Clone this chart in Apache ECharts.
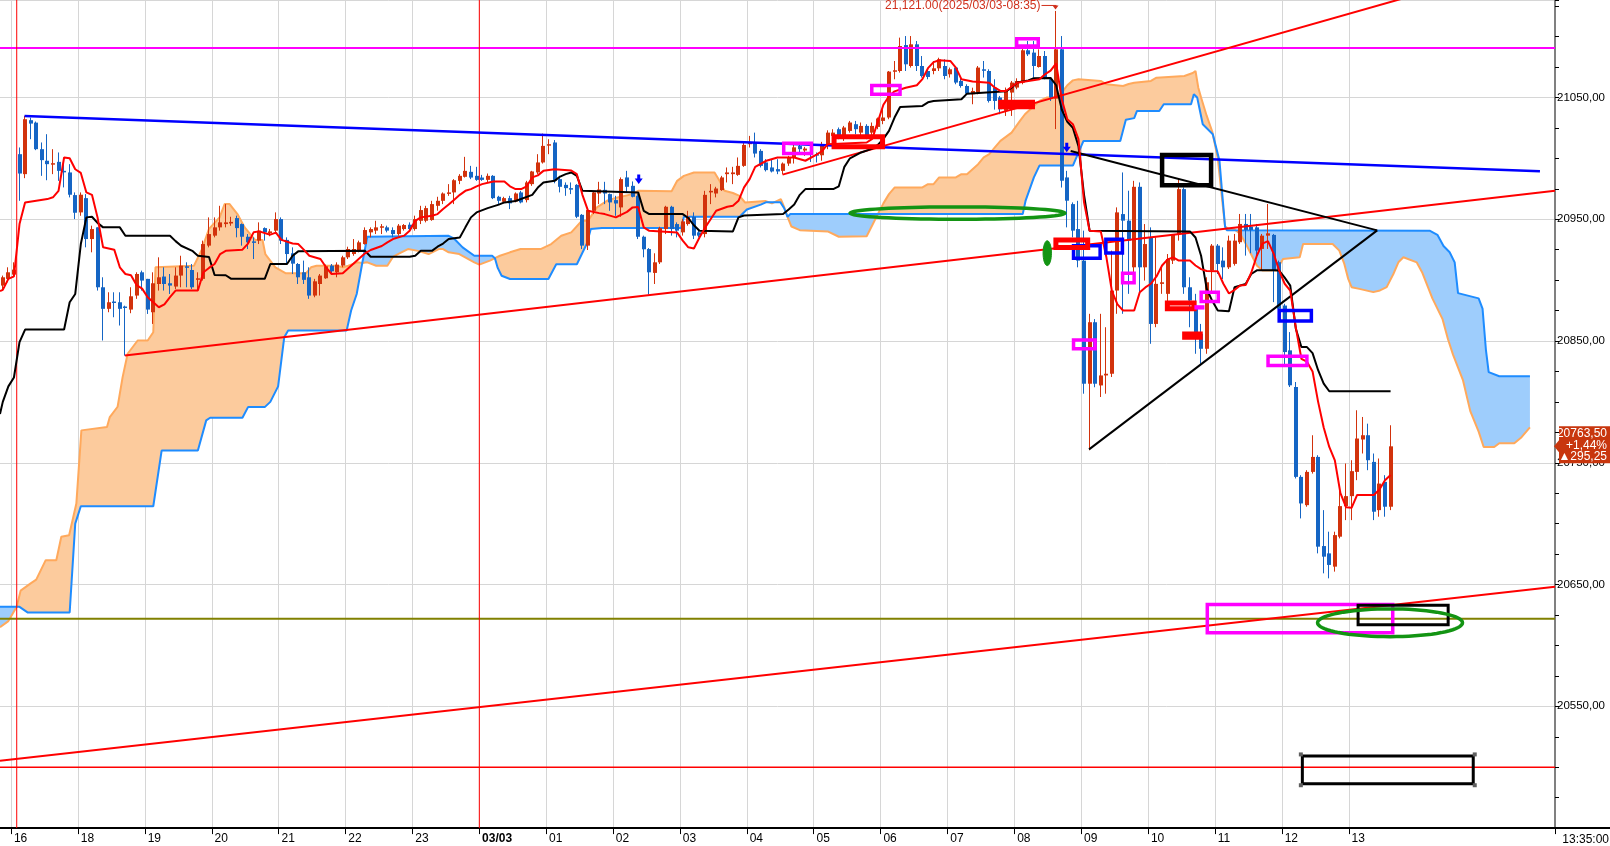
<!DOCTYPE html>
<html><head><meta charset="utf-8">
<script src="https://cdn.jsdelivr.net/npm/echarts@6.0.0/dist/echarts.min.js"></script>
<style>html,body{margin:0;padding:0;background:#fff;overflow:hidden}#c{width:1610px;height:846px}</style>
</head><body><div id="c"></div><script>
// ---------------- DATA ----------------
const sessionDate = '2025/03/03';
const prevClose = 20468.25;
const xTickSlots = [2,14,26,38,50,62,74,86,98,110,122,134,146,158,170,182,194,206,218,230,242];
const xTickLabels = ['16','18','19','20','21','22','23','03/03','01','02','03','04','05','06','07','08','09','10','11','12','13'];
const yMin = 20450, yMax = 21130, yStep = 100;

// [slot, open, close, low, high]  (5-minute candles)
const candles = [
[0,20895.5,20902.3,20891.4,20903.7],[1,20901,20906.4,20898.2,20910.5],[2,20904.5,20908.6,20902.3,20914.6],
[3,21003.4,20987.5,20965.1,21008.9],[4,20987,21032.1,20983.7,21034.8],[5,21031.3,21028.5,21015.7,21033.4],
[6,21029.3,21007.5,21006.7,21030.2],[7,21007.5,20998.5,20985.6,21013],[8,20998,20995.2,20982,21019.8],
[9,20995,20996,20987,21007.5],[10,20997.1,20989.7,20981.5,21004.8],[11,20989.7,20988.9,20976.1,20996.6],
[12,20988.4,20970.1,20967.9,20995.2],[13,20969.8,20955.3,20950.1,20972],[14,20955.6,20970.1,20952.8,20972],
[15,20967.3,20933.7,20926.9,20970.6],[16,20933.7,20941.9,20922.8,20944.7],[17,20943.3,20894.1,20891.4,20943.3],
[18,20894.1,20876.4,20850.4,20902.3],[19,20876.4,20881.8,20873.6,20890],[20,20882.4,20881.3,20869.5,20890],
[21,20881.8,20876.4,20862.7,20890],[22,20878.3,20877.2,20838,20879],[23,20875.8,20886.7,20872.8,20894.1],
[24,20887.3,20905,20884.6,20906.4],[25,20906.4,20899.6,20891.4,20907.8],[26,20901,20875.8,20872.2,20901],
[27,20873.6,20897.4,20864,20906.4],[28,20896.8,20902.3,20891.4,20918.7],[29,20902.9,20896.8,20891.4,20910.5],
[30,20897.4,20895.5,20888.6,20905],[31,20894.7,20903.7,20892.7,20910.5],[32,20903.7,20911.9,20894.1,20920],
[33,20911.3,20910.5,20894.1,20914.6],[34,20908.3,20894.1,20892.7,20913.2],[35,20900.2,20901.5,20891.4,20906.4],
[36,20901,20929.6,20899.6,20932.4],[37,20928.3,20937.8,20926.9,20951.5],[38,20936.5,20943.3,20935.1,20951.5],
[39,20943.3,20947.4,20940.6,20961],[40,20946,20947.4,20943.3,20962.4],[41,20946.5,20947.8,20944.6,20952],
[42,20950.9,20942.7,20935.1,20952.9],[43,20946,20935.6,20928.3,20946.5],[44,20935.6,20931,20925.5,20937.8],
[45,20931.8,20931,20917.3,20935.1],[46,20932.4,20940.6,20929.6,20947.4],[47,20942.7,20939.2,20932.4,20943.3],
[48,20938.5,20940,20936,20942],[49,20940.6,20950.1,20937.8,20955.6],[50,20950.1,20932.4,20929.6,20951.5],
[51,20933,20921.4,20913.2,20935.1],[52,20922,20913.5,20905,20926.9],[53,20913.2,20902.3,20896.8,20914],
[54,20906.4,20900.2,20896.8,20916],[55,20902.3,20887.3,20884.6,20910.5],[56,20887.3,20899,20885.9,20901],
[57,20896.8,20903.7,20887.3,20905],[58,20901.5,20911.3,20901,20912.7],[59,20911.9,20907.2,20905,20913.2],
[60,20906.4,20912.7,20902.3,20914.6],[61,20911.9,20918.7,20910.5,20920],[62,20918.7,20925.5,20917.3,20927.4],
[63,20921.4,20925.5,20920,20933.7],[64,20924.1,20931,20922.8,20932.4],[65,20929.6,20941.1,20929.1,20943.3],
[66,20939.2,20941.9,20935.1,20943.3],[67,20940.6,20943.3,20937.8,20948.7],[68,20943.8,20944.2,20937.8,20946],
[69,20943.3,20940.6,20939.2,20944.7],[70,20941.1,20937.8,20935.1,20943.3],[71,20937.8,20944.7,20936.5,20946],
[72,20941.9,20945.2,20940.6,20946],[73,20945.5,20941.9,20940.6,20947.4],[74,20941.9,20950.1,20940.6,20952.9],
[75,20948.7,20957.5,20946,20961],[76,20948.7,20959.1,20947.4,20961],[77,20949.3,20962.4,20948.7,20965.1],
[78,20961,20965.1,20957,20968.4],[79,20965.1,20971.1,20962.4,20972],[80,20971.5,20972,20969.2,20978.8],
[81,20972,20982,20962.4,20982.9],[82,20981.5,20985.6,20978.8,20987],[83,20984.8,20989.7,20984.2,21001.2],
[84,20988.9,20984.2,20982.9,20993.8],[85,20985.6,20982.3,20981.5,20993],[86,20984.2,20982.3,20981.5,20986.4],
[87,20982.3,20985.6,20980.1,20987.5],[88,20985.6,20967.3,20966.5,20986.2],[89,20968.4,20965.1,20962.4,20969.2],
[90,20964.3,20967.3,20963,20968.4],[91,20967.3,20963,20958.3,20969.2],[92,20964.6,20971.1,20963.8,20972],
[93,20972,20963.8,20963,20973.3],[94,20965.7,20980.2,20963.8,20981.5],[95,20978.8,20989.2,20977.4,20989.7],
[96,20988.4,20996.6,20987,21003.4],[97,20996.6,21010.2,20995.7,21020.3],[98,21010.8,21011.6,21003.4,21015.7],
[99,21013,20981.5,20979.5,21015],[100,20982.9,20976.6,20972,20985.6],[101,20978.2,20975.5,20969.2,20980.2],
[102,20975.5,20974.7,20970.6,20980.2],[103,20978.2,20952,20950.9,20978.8],[104,20953.6,20928.3,20925.5,20954.2],
[105,20928.3,20957.5,20924.7,20959.6],[106,20956.9,20972,20954.2,20973.3],[107,20971.1,20974.4,20962.4,20980.7],
[108,20974.1,20971.1,20962.4,20980.7],[109,20970.6,20963.8,20956.9,20971.1],[110,20965.7,20962.9,20952.8,20969.2],
[111,20959.7,20982.9,20952,20984.3],[112,20984.3,20976.6,20972,20989.7],[113,20977.4,20968.4,20967.9,20981],
[114,20969.2,20935.6,20933.7,20970.6],[115,20935.6,20925.3,20918.7,20936.5],[116,20925.5,20906.4,20888.1,20926.3],
[117,20905.9,20914.6,20896.8,20922],[118,20914.6,20942.7,20913.2,20943.8],[119,20941.9,20960.2,20937.8,20961],
[120,20960.2,20941.9,20936.5,20961],[121,20946,20940.6,20935.1,20947.4],[122,20939.2,20948.2,20936.5,20950.1],
[123,20946,20952,20944.7,20956.9],[124,20952,20936.5,20933.7,20955.6],[125,20939.2,20936.5,20935.1,20941.9],
[126,20937.8,20970,20935.1,20973.3],[127,20972,20973.3,20962.4,20978.8],[128,20971.1,20975.2,20967.9,20976.6],
[129,20973.9,20984.3,20973.3,20985.6],[130,20987,20988.4,20980.2,20992.5],[131,20987,20988.4,20978.8,20993],
[132,20986.4,20993.8,20985.6,21000.7],[133,20993.8,21011,20993,21012.9],[134,21011.6,21012.9,21008.9,21018.4],
[135,21012.9,21003.9,21000.7,21021.1],[136,21006.1,20993.8,20992.5,21007.5],[137,20996.6,20990.3,20989.2,20999.3],
[138,20992.5,20989.2,20988.4,20999.3],[139,20991.1,20989.2,20987,20999.3],[140,20989.7,20995.7,20987,20996.6],
[141,20995.7,21000.7,20993.8,21002],[142,21000.7,21009,20995.7,21011],[143,21010.2,21007.5,21003.4,21012.9],
[144,21006.4,21008,21002,21009.4],[145,21004.8,21003.4,20997,21007.5],[146,21003.4,21002.6,20996.6,21004.8],
[147,21002.5,21010.5,20998,21013.5],[148,21010.2,21021.1,21007.5,21023],[149,21018.4,21021.1,21014.3,21023.9],
[150,21023.9,21018.4,21015.7,21025.3],[151,21018.4,21025.3,21014.3,21026.6],[152,21022.5,21029.4,21021.1,21030.7],
[153,21028,21023.9,21019.8,21030.7],[154,21021.1,21026.6,21018.4,21029.4],[155,21026.6,21018.4,21015.7,21028],
[156,21021.1,21026.6,21017,21029.4],[157,21025.8,21032.7,21023.9,21033.5],[158,21030.7,21033.5,21028,21040.3],
[159,21033.5,21071.2,21032.1,21071.7],[160,21071.2,21072.3,21064.9,21079.9],[161,21071.7,21092.2,21070.4,21099.1],
[162,21093,21077.2,21071.7,21100.4],[163,21075.8,21093.6,21074.5,21100.4],[164,21093.6,21075.8,21071.7,21096.3],
[165,21075.8,21067.6,21066.3,21084],[166,21071.7,21066.8,21064.9,21073.1],[167,21071.7,21073.9,21069,21079.9],
[168,21073.9,21081.3,21071.7,21082.6],[169,21075.8,21067.6,21064.9,21081.3],[170,21069,21073.1,21066.3,21074.5],
[171,21074.5,21062.2,21060.8,21075.8],[172,21063.5,21059.4,21058,21066.3],[173,21059.4,21053.1,21052,21060.8],
[174,21052.6,21055.3,21044.4,21058],[175,21054,21074.5,21052.6,21075.8],[176,21073.1,21072.3,21066.3,21079.9],
[177,21071.7,21047.1,21045.8,21073.1],[178,21058,21047.1,21040,21064.9],[179,21049.9,21040.3,21036.2,21051.2],
[180,21039,21055.3,21034.8,21058.1],[181,21054,21062.2,21034.8,21063.5],[182,21058.1,21063.5,21056.7,21065.7],
[183,21062.2,21088.7,21060.8,21090.9],[184,21088.7,21085.4,21084,21096.3],[185,21086.8,21075.8,21066.3,21096.3],
[186,21075,21084,21074.5,21089.5],[187,21084,21066.3,21064.9,21088.1],[188,21064.9,21049.9,21047.1,21066.3],
[189,21049,21089.5,21024,21121],[190,21089.5,20981.6,20976,21100.4],[191,20984.3,20965.2,20943.3,20989.7],
[192,20962.4,20940.6,20935.1,20963.8],[193,20941.9,20916,20910.5,20965.1],[194,20916,20814.9,20806.7,20940.6],
[195,20814.9,20865.4,20760.3,20872.3],[196,20865.4,20814.9,20812,20868],[197,20813.5,20821.7,20804,20872.3],
[198,20821.7,20823.1,20806.7,20861.3],[199,20823.1,20891.4,20820.4,20924.2],[200,20891.4,20955.6,20872.3,20959.7],
[201,20954.2,20948.8,20872.3,20988.4],[202,20948.8,20932.4,20888.7,20973.4],[203,20910.5,20976.6,20905,20981.5],
[204,20976.6,20910.5,20888.7,20980.2],[205,20910.5,20929.6,20899.6,20946],[206,20935.1,20864,20847.7,20943.3],
[207,20864,20896.9,20861.3,20935.1],[208,20896.9,20898.2,20888.7,20910.5],[209,20888.7,20917.3,20877.7,20921.4],
[210,20916,20937.8,20913.2,20937.8],[211,20937.8,20974.7,20932.4,20982.9],[212,20974.7,20894.1,20888.7,20976.1],
[213,20894.1,20883.2,20861.3,20902.3],[214,20877.7,20855.9,20839.5,20888.7],[215,20855.9,20843.6,20831.3,20864],
[216,20843.6,20898.2,20839.5,20902.3],[217,20907.8,20928.3,20888.7,20929.6],[218,20928.3,20913.2,20905,20929.6],
[219,20916,20910.5,20900.9,20926.9],[220,20910.5,20932.4,20909.1,20936.5],[221,20913.3,20932.4,20911.9,20937.9],
[222,20931.1,20946.1,20929.7,20954.3],[223,20946.1,20941.2,20920.1,20954.3],[224,20943.9,20941.2,20922,20954.3],
[225,20943.3,20924.2,20920.1,20946.1],[226,20925.6,20936.5,20907.8,20937.9],[227,20936.5,20938.4,20925.6,20962.5],
[228,20937.1,20907.8,20881.9,20937.9],[229,20914.7,20876.4,20875,20916],[230,20879.1,20840.9,20828.6,20880.5],
[231,20842.3,20813.6,20812.2,20857.3],[232,20812.2,20738.4,20737.1,20816.3],[233,20738.4,20716.6,20704.3,20739.8],
[234,20715.2,20742.5,20713.9,20743.9],[235,20742.5,20754.8,20741.1,20772.6],[236,20754.8,20681.1,20675.6,20756.2],
[237,20681.6,20672.9,20659.2,20711.1],[238,20675.6,20666.1,20655.1,20693.4],[239,20664.7,20690.6,20660.6,20693.4],
[240,20689.3,20714.4,20687.9,20730.3],[241,20714.4,20722.6,20702.9,20749.4],[242,20722.6,20743.1,20702.9,20752.1],
[243,20742.5,20769.9,20735.7,20793.1],[244,20769.1,20772.6,20757.6,20787.6],[245,20772.6,20752.1,20743.9,20782.1],
[246,20750.7,20709.8,20702.9,20757.6],[247,20711.1,20732.9,20705.7,20753.5],[248,20734.3,20713.9,20705.7,20739.8],
[249,20713.9,20763.5,20711.1,20780.8]
];

// Ichimoku lines as [slot, value] breakpoints
const tenkan = [[-0.5,20891],[0,20892],[1,20901],[2,20903],[3,20946],[4,20963.8],[8,20966.5],[9,20968],[10,20973.3],[11,21000.7],[12,21000],[13,20991],[14,20988],[15,20972],[16,20970],[17,20951.5],[18,20926.9],[20,20925],[21,20910.5],[22,20905],[23,20904],[24,20896],[25,20893],[26,20885.9],[28,20877.7],[29,20880],[30,20886],[31,20891.4],[35,20891.4],[36,20906.4],[37,20910],[38,20913.2],[39,20921.4],[40,20924],[43,20925],[44,20930],[45,20939.2],[46,20940],[48,20937.3],[49,20939],[50,20933],[52,20930],[53,20929.6],[54,20925],[55,20920],[57,20917.3],[58,20910.5],[59,20905],[61,20905.6],[63,20913.8],[65,20922],[66,20924.7],[68,20928],[69,20931],[70,20933.7],[72,20936.5],[73,20940.5],[74,20948.7],[75,20951.5],[77,20952.9],[78,20954.2],[79,20958.3],[80,20962],[81,20966],[82,20970],[83,20973.3],[84,20974.7],[85,20977],[86,20978.8],[88,20981],[90,20981],[91,20977],[92,20974.7],[93,20974.7],[94,20977],[95,20984.3],[96,20986],[97,20989.7],[99,20991.1],[102,20990],[103,20987],[104,20970],[105,20957],[107,20955],[108,20954.2],[110,20951.5],[112,20956],[113,20959.7],[114,20960],[115,20943.3],[116,20940.5],[121,20939],[122,20932.4],[123,20926.9],[124,20926],[125,20935],[126,20943],[127,20950],[128,20956.9],[130,20960.2],[131,20961],[132,20965.1],[133,20976.1],[134,20982.9],[135,20993],[137,20998],[139,21000.7],[142,21000.7],[144,20998],[146,21003],[147,21006],[148,21011.6],[150,21012],[155,21013],[156,21016],[157,21030],[158,21044],[159,21051],[160,21055],[162,21058],[164,21060],[165,21065],[166,21074],[167,21079],[168,21080.5],[170,21080],[171,21074.5],[172,21065],[174,21063],[177,21062],[178,21058],[179,21055.3],[180,21055.3],[182,21062],[186,21065],[187,21069],[188,21072],[189,21078],[190,21048.5],[191,21032],[192,21028],[193,21015.7],[194,20963.8],[195,20940.5],[197,20940],[198,20919],[199,20891],[200,20880],[201,20875],[203,20875],[204,20890],[205,20894],[206,20897],[207,20903],[208,20912],[209,20917],[210,20918.7],[211,20916],[213,20916],[214,20912],[215,20909],[216,20907.5],[218,20907.2],[219,20897],[220,20889],[221,20892],[222,20895.5],[223,20896],[224,20906],[225,20920],[226,20930],[227,20932],[228,20922],[229,20908],[230,20897],[231,20891.4],[232,20861],[233,20835.4],[234,20833],[235,20825],[236,20800],[237,20779],[238,20763],[239,20752],[240,20725],[241,20713.5],[242,20713],[243,20723.6],[246,20723.6],[247,20728],[248,20735.6],[249,20740]];
const kijun = [[-0.5,20790],[0,20800],[1,20812.7],[2,20820],[3,20849],[4,20859.4],[11,20859.4],[12,20881.8],[13,20888.6],[14,20929.6],[15,20951.5],[16,20952],[17,20947],[18,20943.3],[21,20943.3],[22,20936.4],[30,20936.4],[31,20932],[32,20928.2],[34,20924],[35,20920],[37,20919],[38,20904.2],[40,20904],[41,20901],[47,20901],[48,20913.2],[51,20913.2],[52,20920],[53,20923.6],[65,20924],[66,20919.2],[73,20919.2],[74,20920],[75,20924.1],[77,20924],[78,20927.4],[79,20930],[80,20933.7],[82,20935],[83,20943.3],[84,20951.5],[85,20955.6],[87,20959.1],[89,20962],[90,20963.8],[92,20965],[95,20970],[96,20976],[97,20980.2],[99,20981.5],[100,20985],[101,20987],[102,20988.4],[103,20985.6],[104,20973.3],[114,20972],[115,20956.9],[116,20954.2],[122,20954.2],[123,20951],[124,20945],[125,20940.5],[131,20940],[132,20951.5],[133,20953],[140,20954.2],[141,20958],[142,20962],[143,20970],[144,20974.7],[149,20974.7],[150,20977],[151,20993],[152,21000],[154,21004.8],[156,21008],[157,21011],[158,21016],[159,21022.5],[160,21033.5],[161,21042.2],[165,21043],[166,21046],[167,21047.1],[172,21048.5],[173,21053.1],[180,21055],[181,21058],[182,21062.2],[184,21064],[185,21065.7],[188,21066],[189,21060],[190,21040],[191,21030],[192,21025],[193,21010],[194,20970],[195,20940.5],[213,20940],[214,20935],[215,20920],[216,20893],[217,20883],[218,20875],[220,20874.4],[221,20894.1],[223,20896.9],[224,20905],[225,20908],[228,20908],[229,20907.8],[230,20902],[231,20895.5],[232,20860],[233,20845],[234,20845],[235,20840],[236,20826],[237,20815],[238,20808.7],[249,20808.7]];
const spanA = [[-0.5,20615],[1,20620],[2.5,20631.7],[3.2,20645],[5,20651],[6,20654],[7.7,20670],[9.6,20670],[10.5,20689.2],[11.9,20690.5],[13.2,20716.5],[14.1,20776.6],[18.7,20779.3],[19.2,20787.5],[20.6,20796],[21.5,20820.3],[22.4,20839.5],[24.2,20850.4],[26,20850.4],[27,20857.2],[27.4,20910.5],[34.3,20911.8],[35.7,20925],[37,20942],[38.9,20951.5],[39.8,20962.4],[40.7,20962.4],[42.1,20954.2],[43.4,20943.3],[45.3,20932.9],[46.6,20932.9],[47.1,20921.4],[48.9,20910.5],[50.8,20905.6],[54.4,20905.6],[55.3,20910.5],[56.3,20911.8],[59.9,20911.8],[61,20910.5],[62,20911.8],[63.6,20914.6],[64.5,20914],[65.4,20914.6],[67,20911.8],[69,20911.8],[70,20919],[70.9,20921.4],[72.7,20925.5],[74.5,20924],[76.4,20921.4],[78.2,20925.5],[79,20925.5],[80,20922.8],[81.9,20921.4],[84.6,20914.6],[85.5,20912.7],[87.4,20916],[88.3,20918],[89.2,20920],[91,20922.8],[92.9,20925.5],[96.5,20925.5],[98.4,20929.6],[100.2,20936.4],[102,20939.2],[103.9,20948.7],[105,20948.7],[106.6,20959.7],[108.4,20965.1],[110.3,20967.9],[113,20970.6],[114,20973.3],[120,20973],[121,20981.5],[122.2,20985.6],[124,20988.4],[127.7,20988.4],[128.6,20981.5],[129.5,20973.3],[131,20971.5],[132.2,20969.2],[133.2,20963.7],[136.8,20965],[138,20963],[139.6,20966.5],[140.2,20960],[140.8,20952],[141.5,20944],[143,20941],[148,20940],[150,20935.6],[155,20936],[156,20945],[157,20954.2],[158,20963],[159,20970.6],[160,20976],[165,20976.1],[166,20978.8],[167,20978.8],[168,20984.3],[171,20984.3],[172,20987],[173,20987],[175,20995.2],[176,21000.7],[177,21003.4],[178,21008.9],[179,21014.3],[181,21021.1],[182.5,21030.7],[183.4,21036.2],[185,21043],[186,21047.1],[187.3,21049.9],[189,21050],[190,21054],[191,21060],[192,21064],[193,21064.9],[197,21063.5],[198,21060.8],[201,21059.4],[202,21061],[203,21062],[206,21063.5],[207,21066.2],[212,21067.6],[213.5,21070],[214,21071.7],[214.5,21058],[215,21050],[216,21035],[217,21022],[218,21000],[218.8,20965],[219.3,20944],[220,20941.8],[221,20941.5],[222,20938],[223,20930],[224,20921],[225,20912],[226,20907.8],[228.5,20907.8],[229.7,20917.4],[232.7,20918.8],[233.3,20929.7],[238.6,20929.7],[239.8,20924.2],[240.7,20913.3],[241.4,20901],[242,20894.2],[243.4,20892.8],[245.9,20890.1],[247.1,20891.5],[248.3,20894.2],[249.5,20905],[250.4,20914.6],[251.3,20918.8],[253.7,20914.5],[254.7,20906],[256.5,20885],[258.3,20868.2],[259.3,20851.4],[260.2,20838.8],[262,20817.6],[263.3,20792.4],[264.8,20775.6],[265.7,20762.9],[267.6,20762.9],[268.5,20766],[271.2,20766],[272.5,20771],[274,20779]];
const spanB = [[-0.5,20631.7],[2.5,20631.7],[3,20631.7],[4.5,20627],[12,20627],[13,20700],[14,20714.3],[27,20714.3],[28.5,20760],[35,20760],[36.5,20784.8],[37.2,20787],[43,20787],[44,20795.7],[47,20795.7],[48,20800],[49.4,20812.7],[50.5,20853.1],[51.2,20858.6],[61.7,20858.6],[62.5,20875],[63.5,20888.6],[64.5,20914],[65.4,20935.6],[80,20936.4],[81,20934],[82.5,20926.9],[84.6,20920],[87.8,20920],[88.3,20918],[88.8,20910],[89.5,20903.6],[91,20900.9],[97.9,20900.9],[99.3,20913],[103,20913],[104.8,20930],[105.5,20941.9],[107.5,20942.7],[121.7,20942.7],[122.2,20952],[132.2,20952],[133.5,20958],[136,20962],[137,20964],[139.5,20964],[140.2,20959],[140.8,20952],[141.3,20954.2],[157,20954.2],[183,20954.2],[183.5,20965],[185,20984.3],[186,20994],[192,20994],[193.9,21014.3],[200.5,21014.3],[201.5,21031.6],[203,21033],[203.5,21038.9],[207.5,21038.9],[208.3,21044.4],[213.2,21044.4],[213.7,21052.6],[214.3,21050],[215.3,21028],[217.1,21019.8],[218.3,20998],[218.8,20970.6],[219.3,20944],[219.6,20941],[256,20940.6],[257.4,20937.2],[258.5,20928],[259.6,20922.9],[260.5,20914.5],[261.1,20889.3],[264.8,20885],[265.5,20876.6],[266.1,20843],[266.6,20824.4],[268.5,20821],[274,20821]];
// which span is on top in each stretch of the cloud
const cloudSegments = [[-0.5,2.5,'B'],[2.5,64.5,'A'],[64.5,88.3,'B'],[88.3,140.8,'A'],[140.8,157,'B'],[157,219.3,'A'],[219.3,274,'B']];

// drawn objects, in chart coordinates [slot, value]
const blueTrend = [[3.9,21034.8],[275.8,20989.4]];
const redTrendMid = [[21.9,20838],[278.5,20973.3]];
const redTrendUpper = [[139.9,20986.6],[251,21131]];
const redTrendLow = [[-0.5,20505.4],[278.5,20648.2]];
const triangleUpper = [[191.6,21006],[246.6,20940.8]];
const triangleLower = [[194.9,20761],[246.6,20940.8]];
const magentaLevel = 21090.5, oliveLevel = 20622, redLevel = 20500;
const sessionBreaks = [2.5, 85.5];
// boxes: [slot1, value1, slot2, value2]
const magentaBoxes = [[139.8,21013.8,145.4,21002.6],[155.6,21061.3,161.3,21051.2],[181.6,21099.6,186.1,21090.8],[200.6,20907,203.3,20896.3],[191.8,20852.3,196.3,20842.2],[214.7,20891.4,218.4,20880.9],[226.7,20838.9,234.3,20828.5],[215.8,20635.1,249.7,20608.9]];
const blueBoxes = [[191.8,20929.7,197.2,20916.6],[197.6,20935,201.2,20920.9],[228.7,20876.4,235.1,20864.9]];
const redBoxes = [[148.7,21019.8,158.3,21007.5],[188.5,20935,195.1,20924.7],[208.5,20883.2,214.2,20874.4]];
const redBlocks = [[178.6,21048,185.2,21040.3],[211.6,20857.8,215.3,20851]];
const magentaBlocks = [[213.8,20879.4,215.6,20875.8]];
const blackThickBoxes = [[207.6,21004.5,217.2,20976.1]];
const blackBoxes = [[242.9,20634.2,259.6,20615.7],[232.9,20510.5,264.1,20485.2]];
// ellipses: [centerSlot, centerValue, radiusSlots, radiusValue]
const greenEllipses = [[171.3,20955,19.25,5.1],[248.9,20618.6,13,11.4]];
const greenBlobs = [[187.4,20922.1,0.75,10.2]];
const signalArrows = [[114.1,20982.5],[190.9,21008.6]];

// ---------------- CHART ----------------
const UP = '#d2320c', DOWN = '#1565c4';
const NSLOT = 279;
const cats = [];
const pad = n => String(n).padStart(2,'0');
cats.push('15:50','15:55');
for (let m = 0; m < 60; m += 5) cats.push('16:' + pad(m));
{ let h = 18, m = 0; while (cats.length < NSLOT) { cats.push(pad(h) + ':' + pad(m)); m += 5; if (m === 60) { m = 0; h = (h + 1) % 24; } } }
const tickSet = new Set(xTickSlots);
const FONT = '"Liberation Sans", Arial, sans-serif';

const chart = echarts.init(document.getElementById('c'), null, {renderer: 'canvas'});

function lineSeries(data, color, width, z) {
  return {type: 'line', xAxisIndex: 1, yAxisIndex: 0, data: data, showSymbol: false, symbol: 'none',
    lineStyle: {color: color, width: width}, z: z, silent: true, animation: false, clip: true};
}
function ellipsePts(api, e, n) {
  const c = api.coord([e[0], e[1]]);
  const rx = Math.abs(api.coord([e[0] + e[2], e[1]])[0] - c[0]);
  const ry = Math.abs(api.coord([e[0], e[1] + e[3]])[1] - c[1]);
  const pts = [];
  for (let i = 0; i < n; i++) { const t = i / n * Math.PI * 2; pts.push([c[0] + rx * Math.cos(t), c[1] + ry * Math.sin(t)]); }
  return pts;
}
function boxShape(api, b, lw) {
  const p1 = api.coord([b[0], b[1]]), p2 = api.coord([b[2], b[3]]);
  const x = Math.min(p1[0], p2[0]) + lw / 2, y = Math.min(p1[1], p2[1]) + lw / 2;
  return {x: x, y: y, width: Math.abs(p2[0] - p1[0]) - lw, height: Math.abs(p2[1] - p1[1]) - lw};
}

const last = candles[candles.length - 1];
let hiC = candles[0];
candles.forEach(c => { if (c[4] > hiC[4]) hiC = c; });

const option = {
  animation: false,
  backgroundColor: '#ffffff',
  grid: {left: 0, right: 55, top: 0, bottom: 17.9, containLabel: false},
  xAxis: [{
    type: 'category', data: cats, boundaryGap: true, gridIndex: 0, position: 'bottom',
    axisLine: {show: true, onZero: false, lineStyle: {color: '#000', width: 2}},
    axisTick: {show: true, interval: (i) => tickSet.has(i), length: 6, lineStyle: {color: '#000', width: 1}},
    axisLabel: {show: true, interval: (i) => tickSet.has(i),
      formatter: (v, i) => { const k = xTickSlots.indexOf(i); if (k < 0) return ''; const t = xTickLabels[k]; return t.indexOf('/') >= 0 ? '{b|' + t + '}' : t; },
      align: 'left', margin: 5, fontSize: 12, color: '#000', fontFamily: FONT,
      rich: {b: {fontWeight: 'bold', fontSize: 12, color: '#000', fontFamily: FONT}}},
    splitLine: {show: true, interval: (i) => tickSet.has(i), lineStyle: {color: '#d6d6d6', width: 1}}
  }, {
    type: 'value', gridIndex: 0, min: -0.5, max: NSLOT - 0.5, show: false,
    axisLine: {show: false, onZero: false}, splitLine: {show: false}, axisLabel: {show: false}, axisTick: {show: false}
  }],
  yAxis: [{
    type: 'value', position: 'right', min: yMin, max: yMax, interval: yStep,
    axisLine: {show: true, onZero: false, lineStyle: {color: '#808080', width: 2}},
    axisTick: {show: true, inside: false, length: 4, lineStyle: {color: '#000'}},
    minorTick: {show: true, splitNumber: 4, length: 4, lineStyle: {color: '#000'}},
    axisLabel: {show: true, margin: 2, fontSize: 11.5, color: '#000', fontFamily: FONT,
      formatter: v => (v <= yMin || v >= yMax - 1) ? '' : v.toFixed(2).replace('.', ',')},
    splitLine: {show: true, lineStyle: {color: '#d6d6d6', width: 1}},
    minorSplitLine: {show: false}
  }],
  series: [
    // cloud fill
    {type: 'custom', xAxisIndex: 1, yAxisIndex: 0, z: 1, silent: true, data: [[0, yMin]],
     renderItem: (params, api) => {
       const children = [];
       cloudSegments.forEach(seg => {
         const a = spanA.filter(p => p[0] >= seg[0] - 1e-6 && p[0] <= seg[1] + 1e-6).map(p => api.coord(p));
         const b = spanB.filter(p => p[0] >= seg[0] - 1e-6 && p[0] <= seg[1] + 1e-6).map(p => api.coord(p)).reverse();
         children.push({type: 'polygon', shape: {points: a.concat(b)}, style: {fill: seg[2] === 'A' ? '#fccb9d' : '#9ecdfc', stroke: null}});
       });
       return {type: 'group', children: children};
     }},
    lineSeries(spanA, '#ffa95c', 2, 2),
    lineSeries(spanB, '#1e8cff', 2, 2),
    // candles
    {type: 'custom', xAxisIndex: 1, yAxisIndex: 0, z: 4, silent: true, data: candles,
     encode: {x: 0, y: [1, 2, 3, 4]},
     renderItem: (params, api) => {
       const s = api.value(0), o = api.value(1), c = api.value(2), l = api.value(3), h = api.value(4);
       const pO = api.coord([s, o]), pC = api.coord([s, c]), pL = api.coord([s, l]), pH = api.coord([s, h]);
       const x = Math.round(pO[0]);
       const col = c >= o ? UP : DOWN;
       let top = Math.min(pO[1], pC[1]), bot = Math.max(pO[1], pC[1]);
       if (bot - top < 1.5) bot = top + 1.5;
       return {type: 'group', children: [
         {type: 'line', shape: {x1: x - 0.5, y1: pH[1], x2: x - 0.5, y2: pL[1]}, style: {stroke: col, lineWidth: 1}},
         {type: 'rect', shape: {x: x - 2, y: top, width: 4, height: bot - top}, style: {fill: col}}
       ]};
     }},
    // levels and trend lines
    lineSeries([[-0.5, magentaLevel], [NSLOT - 0.5, magentaLevel]], '#ff00ff', 2, 5),
    lineSeries([[-0.5, oliveLevel], [NSLOT - 0.5, oliveLevel]], '#808000', 2, 5),
    lineSeries([[-0.5, redLevel], [NSLOT - 0.5, redLevel]], '#ff0000', 1.5, 5),
    lineSeries([[sessionBreaks[0], yMin], [sessionBreaks[0], yMax]], '#ff0000', 1, 5),
    lineSeries([[sessionBreaks[1], yMin], [sessionBreaks[1], yMax]], '#ff0000', 1, 5),
    lineSeries(blueTrend, '#0000ff', 2.5, 5),
    lineSeries(redTrendMid, '#ff0000', 2, 5),
    lineSeries(redTrendUpper, '#ff0000', 2, 5),
    lineSeries(redTrendLow, '#ff0000', 2, 5),
    lineSeries(triangleUpper, '#000000', 2, 5),
    lineSeries(triangleLower, '#000000', 2, 5),
    // tenkan / kijun
    lineSeries(kijun, '#000000', 2, 6),
    lineSeries(tenkan, '#ff0000', 2, 6),
    // annotations
    {type: 'custom', xAxisIndex: 1, yAxisIndex: 0, z: 7, silent: true, data: [[0, yMin]],
     renderItem: (params, api) => {
       const ch = [];
       const addBoxes = (arr, color, lw) => arr.forEach(b => ch.push({type: 'rect', shape: boxShape(api, b, lw), style: {fill: null, stroke: color, lineWidth: lw}}));
       const addBlocks = (arr, color) => arr.forEach(b => ch.push({type: 'rect', shape: boxShape(api, b, 0), style: {fill: color}}));
       addBoxes(magentaBoxes, '#ff00ff', 3.5);
       addBoxes(blueBoxes, '#0000ff', 3.5);
       addBoxes(redBoxes, '#ff0000', 5);
       addBlocks(redBlocks, '#ff0000');
       addBlocks(magentaBlocks, '#ff00ff');
       addBoxes(blackThickBoxes, '#000000', 4.5);
       addBoxes(blackBoxes, '#000000', 3);
       blackBoxes.slice(-1).forEach(b => {
         [[b[0], b[1]], [b[2], b[1]], [b[0], b[3]], [b[2], b[3]]].forEach(q => {
           const p = api.coord(q); ch.push({type: 'rect', shape: {x: p[0] - 2, y: p[1] - 2, width: 4, height: 4}, style: {fill: '#606060'}});
         });
       });
       greenEllipses.forEach(e => ch.push({type: 'polygon', shape: {points: ellipsePts(api, e, 72)}, style: {fill: null, stroke: '#139413', lineWidth: 3.5}}));
       greenBlobs.forEach(e => ch.push({type: 'polygon', shape: {points: ellipsePts(api, e, 36)}, style: {fill: '#139413', stroke: '#139413', lineWidth: 1}}));
       signalArrows.forEach(a => {
         const p = api.coord(a);
         ch.push({type: 'polygon', shape: {points: [[p[0] - 1.5, p[1] - 5], [p[0] + 1.5, p[1] - 5], [p[0] + 1.5, p[1] - 1], [p[0] + 4, p[1] - 1], [p[0], p[1] + 4.5], [p[0] - 4, p[1] - 1], [p[0] - 1.5, p[1] - 1]]}, style: {fill: '#0000ff'}});
       });
       // high marker label
       const hp = api.coord([hiC[0], hiC[4]]);
       const hx = Math.round(hp[0]) - 0.5, ty = hp[1] - 5.5;
       const hiTxt = hiC[4].toLocaleString('en-US', {minimumFractionDigits: 2, maximumFractionDigits: 2}) + '(' + sessionDate + '-' + cats[hiC[0]] + ')';
       ch.push({type: 'text', style: {text: hiTxt, x: hx - 15, y: ty, align: 'right', verticalAlign: 'middle', fill: '#d0301c', font: '12px ' + FONT}});
       ch.push({type: 'line', shape: {x1: hx - 14, y1: ty, x2: hx + 1, y2: ty}, style: {stroke: '#d0301c', lineWidth: 1}});
       ch.push({type: 'polygon', shape: {points: [[hx - 3, ty], [hx + 3, ty], [hx, ty + 4]]}, style: {fill: '#d0301c'}});
       // last price tag
       const lp = api.coord([NSLOT - 0.5, last[2]]);
       const x0 = lp[0], y0 = lp[1];
       const chg = last[2] - prevClose, pct = chg / prevClose * 100;
       ch.push({type: 'polygon', shape: {points: [[x0 - 1, y0], [x0 + 4, y0 - 6], [x0 + 4, y0 - 20], [x0 + 60, y0 - 20], [x0 + 60, y0 + 17], [x0 + 4, y0 + 17], [x0 + 4, y0 + 6]]}, style: {fill: '#c8360e'}});
       const tf = '12px ' + FONT;
       ch.push({type: 'text', style: {text: last[2].toFixed(2).replace('.', ','), x: x0 + 52, y: y0 - 12.5, align: 'right', verticalAlign: 'middle', fill: '#fff', font: tf}});
       ch.push({type: 'text', style: {text: (pct >= 0 ? '+' : '') + pct.toFixed(2).replace('.', ',') + '%', x: x0 + 52, y: y0 - 1, align: 'right', verticalAlign: 'middle', fill: '#fff', font: tf}});
       ch.push({type: 'text', style: {text: (chg >= 0 ? '\u25B2' : '\u25BC') + Math.abs(chg).toFixed(2).replace('.', ','), x: x0 + 52, y: y0 + 10.5, align: 'right', verticalAlign: 'middle', fill: '#fff', font: tf}});
       // current time under the price axis
       const bp = api.coord([NSLOT - 0.5, yMin]);
       ch.push({type: 'line', shape: {x1: bp[0], y1: bp[1], x2: bp[0] + 60, y2: bp[1]}, style: {stroke: '#000', lineWidth: 2}});
       ch.push({type: 'text', style: {text: cats[last[0]] + ':00', x: bp[0] + 54, y: bp[1] + 12, align: 'right', verticalAlign: 'middle', fill: '#000', font: '12px ' + FONT}});
       return {type: 'group', children: ch};
     }}
  ]
};
chart.setOption(option);
</script></body></html>
